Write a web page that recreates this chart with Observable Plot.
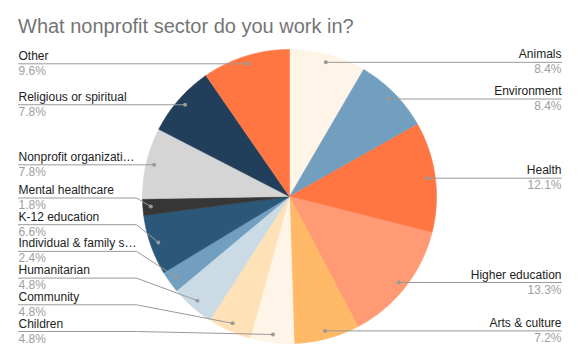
<!DOCTYPE html>
<html><head><meta charset="utf-8">
<script src="https://cdn.jsdelivr.net/npm/d3@7"></script>
<script src="https://cdn.jsdelivr.net/npm/@observablehq/plot@0.6"></script>
<style>
body{margin:0;background:#fff;font-family:"Liberation Sans",Arial,sans-serif}
#title{position:relative;height:40px;width:579px}
#title span{position:absolute;left:18px;top:16px;font-size:20px;line-height:20px;color:#757575;white-space:nowrap}
</style></head><body>
<div id="title"><span>What nonprofit sector do you work in?</span></div>
<div id="chart"></div>
<script>
// ---- data ----
const labels = ["Animals", "Environment", "Health", "Higher education", "Arts & culture", "Children", "Community", "Humanitarian", "Individual & family s…", "K-12 education", "Mental healthcare", "Nonprofit organizati…", "Religious or spiritual", "Other"];
const shares = [8.4, 8.4, 12.1, 13.3, 7.2, 4.8, 4.8, 4.8, 2.4, 6.6, 1.8, 7.8, 7.8, 9.6];
const pctLabels = ["8.4%", "8.4%", "12.1%", "13.3%", "7.2%", "4.8%", "4.8%", "4.8%", "2.4%", "6.6%", "1.8%", "7.8%", "7.8%", "9.6%"];
const colors = ["#fef4e8", "#729fc0", "#ff7643", "#ff9a74", "#ffb967", "#fef4e8", "#ffe1b8", "#cadbe6", "#729fc0", "#2b5779", "#363636", "#d5d5d5", "#213f5b", "#ff7643"];

// ---- layout ----
const W = 579, H = 322;
const cx = 289, cy = 156, R = 147, dotR = 139;
const leftX = 18, rightX = 561, bendX = cx - R - 6;
const gap = 26.7, maxLineY = 291;

const rows = labels.map((label, i) => ({label, share: shares[i], pct: pctLabels[i], color: colors[i], key: i}));
const arcs = d3.pie().sort(null).value(d => d.share)(rows);

// slice polygons
const slicePts = [];
arcs.forEach(a => {
  const n = Math.max(4, Math.ceil((a.endAngle - a.startAngle) / 0.01));
  slicePts.push({key: a.data.key, color: a.data.color, x: cx, y: cy});
  for (let k = 0; k <= n; k++) {
    const t = a.startAngle + (a.endAngle - a.startAngle) * k / n;
    slicePts.push({key: a.data.key, color: a.data.color, x: cx + R * Math.sin(t), y: cy - R * Math.cos(t)});
  }
  slicePts.push({key: a.data.key, color: a.data.color, x: cx, y: cy});
});

// label anchors
const anchors = arcs.map(a => {
  const m = (a.startAngle + a.endAngle) / 2;
  return {label: a.data.label, pct: a.data.pct, key: a.data.key, side: m > Math.PI ? "left" : "right",
          dx: cx + dotR * Math.sin(m), dy: cy - dotR * Math.cos(m)};
});
const left = anchors.filter(d => d.side === "left").sort((a, b) => b.dy - a.dy);
let prev = maxLineY + gap;
left.forEach(d => { d.ly = Math.min(d.dy, prev - gap); prev = d.ly; });
const right = anchors.filter(d => d.side === "right");
right.forEach(d => { d.ly = Math.min(d.dy, maxLineY); });

const leaders = [];
left.forEach(d => {
  leaders.push({key: d.key, x: leftX, y: d.ly});
  if (Math.abs(d.ly - d.dy) > 0.5) leaders.push({key: d.key, x: bendX, y: d.ly});
  leaders.push({key: d.key, x: d.dx, y: d.dy});
});
right.forEach(d => {
  leaders.push({key: d.key, x: d.dx, y: d.dy});
  leaders.push({key: d.key, x: rightX, y: d.ly});
});

const chart = Plot.plot({
  width: W, height: H,
  margin: 0,
  x: {domain: [0, W], range: [0, W], axis: null},
  y: {domain: [0, H], range: [0, H], axis: null},
  color: {type: "identity"},
  style: {fontFamily: "'Liberation Sans', Arial, sans-serif", background: "#fff"},
  marks: [
    Plot.line(slicePts, {x: "x", y: "y", z: "key", fill: "color", stroke: "color", strokeWidth: 0.6, curve: "linear"}),
    Plot.line(leaders, {x: "x", y: "y", z: "key", stroke: "#9a9a9a", strokeWidth: 1}),
    Plot.dot(anchors, {x: "dx", y: "dy", r: 2, fill: "#9a9a9a"}),
    Plot.text(left, {x: () => leftX, y: "ly", text: "label", textAnchor: "start", lineAnchor: "bottom", dy: -4, fontSize: 12, fill: "#222"}),
    Plot.text(left, {x: () => leftX, y: "ly", text: "pct", textAnchor: "start", lineAnchor: "bottom", dy: 11, fontSize: 12, fill: "#9e9e9e"}),
    Plot.text(right, {x: () => rightX, y: "ly", text: "label", textAnchor: "end", lineAnchor: "bottom", dy: -4, fontSize: 12, fill: "#222"}),
    Plot.text(right, {x: () => rightX, y: "ly", text: "pct", textAnchor: "end", lineAnchor: "bottom", dy: 11, fontSize: 12, fill: "#9e9e9e"})
  ]
});
document.getElementById("chart").appendChild(chart);
</script></body></html>
